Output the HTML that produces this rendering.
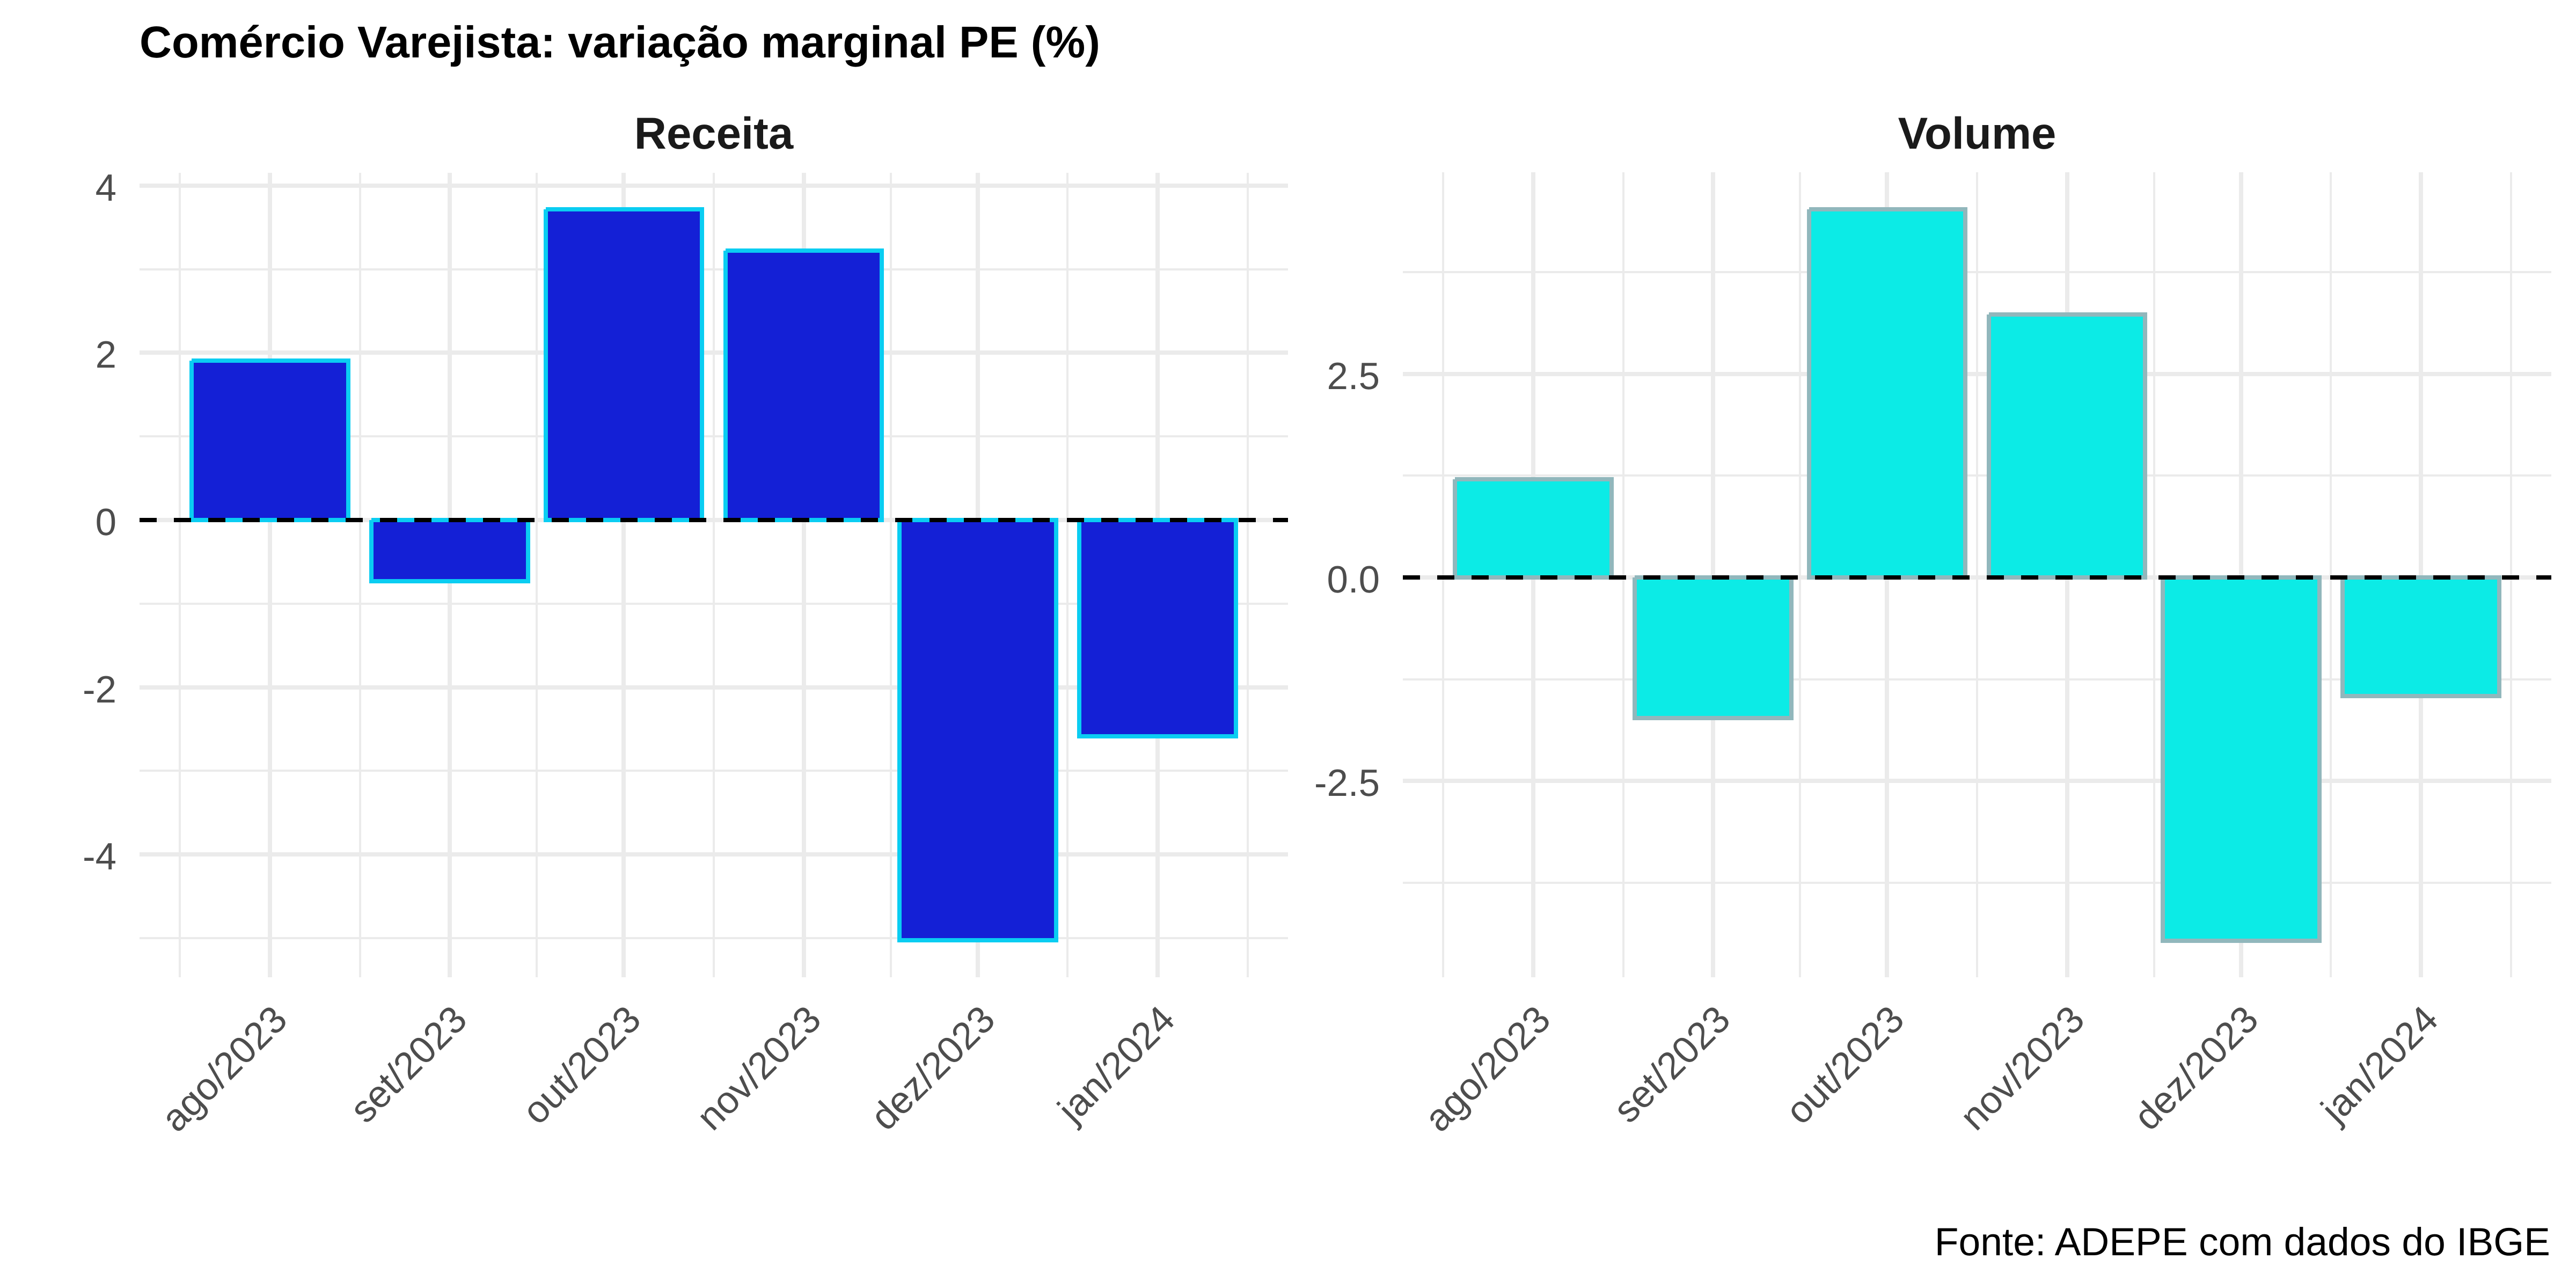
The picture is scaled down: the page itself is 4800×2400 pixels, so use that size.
<!DOCTYPE html>
<html lang="pt-BR">
<head>
<meta charset="utf-8">
<title>Comércio Varejista: variação marginal PE (%)</title>
<style>
  html, body { margin: 0; padding: 0; background: #ffffff; }
  svg { display: block; font-family: "Liberation Sans", Arial, sans-serif; text-rendering: geometricPrecision; }
</style>
</head>
<body>
<svg id="chart" xmlns="http://www.w3.org/2000/svg" width="4800" height="2400" viewBox="0 0 4800 2400">
  <rect x="0" y="0" width="4800" height="2400" fill="#ffffff"/>
  <text x="260" y="107" font-size="83" font-weight="700" fill="#000000">Comércio Varejista: variação marginal PE (%)</text>
  <text x="1330" y="277" font-size="83.33" font-weight="700" fill="#1a1a1a" text-anchor="middle">Receita</text>
  <text x="3684" y="277" font-size="83.33" font-weight="700" fill="#1a1a1a" text-anchor="middle">Volume</text>
  <text x="4752" y="2339" font-size="73.2" fill="#000000" text-anchor="end">Fonte: ADEPE com dados do IBGE</text>
  <g id="receita-panel"></g>
  <g id="volume-panel"></g>
</svg>
<script>
// Chart data
const categoryDates = ['2023-08-01', '2023-09-01', '2023-10-01', '2023-11-01', '2023-12-01', '2024-01-01'];
const categoryLabels = ['ago/2023', 'set/2023', 'out/2023', 'nov/2023', 'dez/2023', 'jan/2024'];
const receitaValues = [1.91, -0.73, 3.72, 3.22, -5.03, -2.59];
const volumeValues = [1.21, -1.73, 4.525, 3.23, -4.465, -1.46];
const receitaMajorTicks = [-4, -2, 0, 2, 4];
const receitaTickLabels = ['-4', '-2', '0', '2', '4'];
const receitaMinorTicks = [-5, -3, -1, 1, 3];
const volumeMajorTicks = [-2.5, 0, 2.5];
const volumeTickLabels = ['-2.5', '0.0', '2.5'];
const volumeMinorTicks = [-3.75, -1.25, 1.25, 3.75];
const referenceLineValue = 0;
const barWidthDays = 27;

const SVG_NS = 'http://www.w3.org/2000/svg';
const MS_PER_DAY = 86400000;

function daysFromStart(dateString) {
  return (Date.parse(dateString) - Date.parse(categoryDates[0])) / MS_PER_DAY;
}

function linearScale(domainStart, domainEnd, rangeStart, rangeEnd) {
  return function (value) {
    return rangeStart + (value - domainStart) * (rangeEnd - rangeStart) / (domainEnd - domainStart);
  };
}

function makeNode(tag, attrs, parent) {
  const node = document.createElementNS(SVG_NS, tag);
  Object.keys(attrs).forEach(function (key) { node.setAttribute(key, attrs[key]); });
  parent.appendChild(node);
  return node;
}

function drawPanel(config) {
  const group = document.getElementById(config.id);
  const xScale = linearScale(-22.48, 175.48, config.left, config.right);
  const yScale = linearScale(config.yMin, config.yMax, config.bottom, config.top);
  const days = categoryDates.map(daysFromStart);

  // minor vertical grid positions: midpoints, plus half-step past each end
  const minorDays = [days[0] - (days[1] - days[0]) / 2];
  for (let i = 0; i < days.length - 1; i++) {
    minorDays.push((days[i] + days[i + 1]) / 2);
  }
  minorDays.push(days[days.length - 1] + (days[days.length - 1] - days[days.length - 2]) / 2);

  config.minorTicks.forEach(function (tick) {
    const y = Math.round(yScale(tick));
    const line = makeNode('line', { x1: config.left, x2: config.right, y1: y, y2: y, stroke: '#ebebeb', 'stroke-width': 4, 'shape-rendering': 'crispEdges' }, group);
    
    
  });
  minorDays.forEach(function (day) {
    const x = Math.round(xScale(day));
    const line = makeNode('line', { x1: x, x2: x, y1: config.top, y2: config.bottom, stroke: '#ebebeb', 'stroke-width': 4, 'shape-rendering': 'crispEdges' }, group);
    
    
  });
  config.majorTicks.forEach(function (tick, i) {
    const y = Math.round(yScale(tick));
    const line = makeNode('line', { x1: config.left, x2: config.right, y1: y, y2: y, stroke: '#ebebeb', 'stroke-width': 8, 'shape-rendering': 'crispEdges' }, group);
    
    
    const label = makeNode('text', { x: config.left - 43, y: y + 28, 'font-size': 70.83, fill: '#4d4d4d', 'text-anchor': 'end' }, group);
    
    
    label.textContent = config.tickLabels[i];
  });
  days.forEach(function (day, i) {
    const x = Math.round(xScale(day));
    const line = makeNode('line', { x1: x, x2: x, y1: config.top, y2: config.bottom, stroke: '#ebebeb', 'stroke-width': 8, 'shape-rendering': 'crispEdges' }, group);
    
    
    const lx = x + 36;
    const ly = 1904;
    const label = makeNode('text', { x: lx, y: ly, 'font-size': 70.83, fill: '#4d4d4d', 'text-anchor': 'end', transform: 'rotate(-45 ' + lx + ' ' + ly + ')' }, group);
    
    
    label.textContent = categoryLabels[i];
  });

  // bars: open path so the stroke start leaves the same corner notch as the source
  config.values.forEach(function (value, i) {
    const xl = Math.round(xScale(days[i] - barWidthDays / 2));
    const xr = Math.round(xScale(days[i] + barWidthDays / 2));
    const yValue = Math.round(yScale(value));
    const yZero = Math.round(yScale(referenceLineValue));
    const yt = Math.min(yValue, yZero);
    const yb = Math.max(yValue, yZero);
    const d = 'M' + xl + ',' + yt + ' L' + xr + ',' + yt + ' L' + xr + ',' + yb + ' L' + xl + ',' + yb + ' L' + xl + ',' + yt;
    const bar = makeNode('path', { d: d, fill: config.fill, stroke: config.stroke, 'stroke-width': 8, 'stroke-linejoin': 'miter', 'stroke-linecap': 'butt', 'shape-rendering': 'crispEdges' }, group);
    
    
  });

  const zeroY = Math.round(yScale(referenceLineValue));
  const refLine = makeNode('line', { x1: config.left, x2: config.right, y1: zeroY, y2: zeroY, stroke: '#000000', 'stroke-width': 8, 'stroke-dasharray': '32 32', 'shape-rendering': 'crispEdges' }, group);
  
  
}

drawPanel({
  id: 'receita-panel',
  left: 260, right: 2400, top: 322, bottom: 1821,
  yMin: -5.47, yMax: 4.154,
  values: receitaValues,
  majorTicks: receitaMajorTicks,
  tickLabels: receitaTickLabels,
  minorTicks: receitaMinorTicks,
  fill: '#1420d6',
  stroke: '#0acdf2'
});
drawPanel({
  id: 'volume-panel',
  left: 2614, right: 4754, top: 321, bottom: 1821,
  yMin: -4.914, yMax: 4.98,
  values: volumeValues,
  majorTicks: volumeMajorTicks,
  tickLabels: volumeTickLabels,
  minorTicks: volumeMinorTicks,
  fill: '#0cebe6',
  stroke: '#91b7bc'
});
</script>
</body>
</html>
